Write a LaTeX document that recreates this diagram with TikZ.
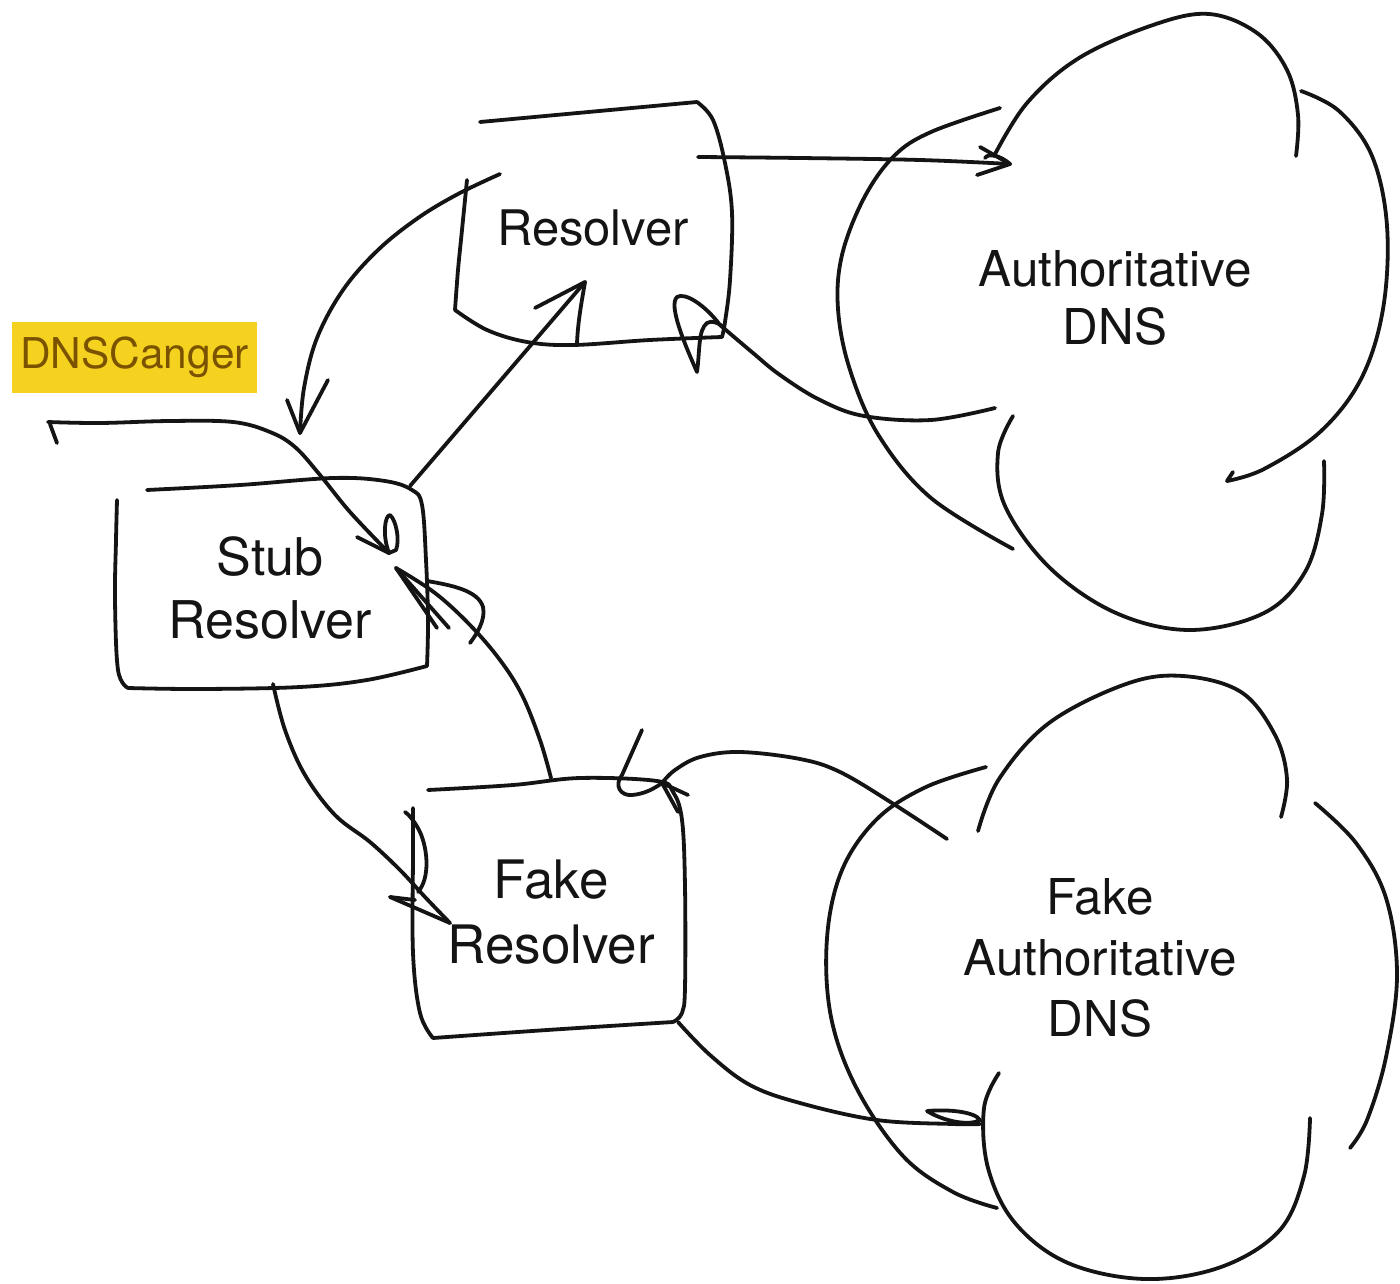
\documentclass[tikz,border=0pt]{standalone}
\usepackage{fontspec}
\setmainfont{TeX Gyre Heros}
\definecolor{inkc}{HTML}{141414}
\definecolor{hlyellow}{HTML}{F5D21F}
\definecolor{hltext}{HTML}{7A5200}
\begin{document}
\begin{tikzpicture}[x=0.5pt,y=-0.5pt,
  ink/.style={line width=1.9pt, draw=inkc, line cap=round, line join=round},
  lbl/.style={align=center, inner sep=0pt, text=inkc},
]
% canvas
\fill[white] (0,0) rectangle (1400,1283);
\useasboundingbox (0,0) rectangle (1400,1283);

% ---------- labels ----------
\node[lbl, font=\fontsize{24.5}{29}\selectfont] (res) at (593,228) {Resolver};
\node[lbl, font=\fontsize{26}{31.5}\selectfont] (stub) at (270,588) {Stub\\Resolver};
\node[lbl, font=\fontsize{26.5}{32.5}\selectfont] (fake) at (551,912) {Fake\\Resolver};
\node[lbl, font=\fontsize{24.7}{29}\selectfont] (auth) at (1115,298) {Authoritative\\DNS};
\node[lbl, font=\fontsize{24.7}{30.5}\selectfont] (fauth) at (1100,958) {Fake\\Authoritative\\DNS};
\node[fill=hlyellow, text=hltext, inner sep=0pt, minimum width=122.5pt, minimum height=35.5pt,
      font=\fontsize{21.2}{25}\selectfont] (dnsc) at (134.5,357.5) {DNSCanger};

% ---------- hand-drawn boxes ----------
% Resolver
\draw[ink] (480,122) -- (697,102);
\draw[ink] plot[smooth,tension=0.6] coordinates {(697,102) (713,120) (725,163) (732,213) (730,280) (725,322) (722,337)};
\draw[ink] plot[smooth,tension=0.6] coordinates {(722,337) (650,340) (573,345) (527,342) (487,330) (455,310)};
\draw[ink] plot[smooth,tension=0.6] coordinates {(455,310) (458,270) (462,230) (467,180)};
% Stub Resolver
\draw[ink] plot[smooth,tension=0.6] coordinates {(147,490) (240,485) (333,478) (385,481) (412,490) (422,505) (426,560) (428,620) (427,666)};
\draw[ink] plot[smooth,tension=0.6] coordinates {(427,666) (367,680) (300,687) (200,689) (128,688)};
\draw[ink] plot[smooth,tension=0.6] coordinates {(128,688) (118,670) (115,600) (116,540) (117,500)};
% Fake Resolver
\draw[ink] plot[smooth,tension=0.6] coordinates {(428,790) (513,785) (580,778) (657,781) (673,792) (682,820) (685,887) (685,987) (682,1013) (673,1022)};
\draw[ink] plot[smooth,tension=0.6] coordinates {(673,1022) (547,1030) (433,1038)};
\draw[ink] plot[smooth,tension=0.6] coordinates {(433,1038) (420,1013) (413,953) (413,853) (413,808)};

% ---------- clouds ----------
% Authoritative DNS
\draw[ink] plot[smooth,tension=0.6] coordinates {(1000,108) (931,132) (894,156) (864,198) (842,255) (838,309) (850,370) (879,436) (931,498) (1013,549)};
\draw[ink] plot[smooth,tension=0.6] coordinates {(994,156) (1027,103) (1079,58) (1153,25) (1209,14) (1257,33) (1287,70) (1298,115) (1296,156)};
\draw[ink] plot[smooth,tension=0.6] coordinates {(1301,91) (1339,111) (1372,156) (1387,226) (1383,309) (1361,379) (1320,432) (1264,469) (1227,481)};
\draw[ink] (1227,481) -- (1233,472);
\draw[ink] plot[smooth,tension=0.6] coordinates {(1324,461) (1322,514) (1305,572) (1264,613) (1190,630) (1116,613) (1050,568) (1005,506) (998,453) (1013,416)};
% Fake Authoritative DNS
\draw[ink] plot[smooth,tension=0.6] coordinates {(986,767) (926,787) (877,819) (842,870) (827,938) (831,1017) (857,1089) (903,1156) (953,1192) (997,1208)};
\draw[ink] plot[smooth,tension=0.6] coordinates {(978,831) (999,779) (1049,723) (1126,684) (1183,676) (1241,692) (1275,735) (1287,779) (1281,817)};
\draw[ink] plot[smooth,tension=0.6] coordinates {(1315,803) (1356,843) (1386,898) (1397,975) (1386,1057) (1367,1120) (1350,1148)};
\draw[ink] plot[smooth,tension=0.6] coordinates {(999,1073) (984,1108) (988,1168) (1015,1223) (1068,1263) (1145,1279) (1221,1267) (1279,1231) (1304,1176) (1310,1118)};

% ---------- connector end points ----------
\coordinate (r1) at (698,157);   \coordinate (a1) at (1010,164);
\coordinate (r2) at (500,174);   \coordinate (s2) at (300,433);
\coordinate (d3) at (48,422);    \coordinate (s3) at (389,553);
\coordinate (s4) at (410,486);   \coordinate (r4) at (585,282);
\coordinate (a5) at (995,408);   \coordinate (r5) at (720,325);
\coordinate (f6) at (551,778);   \coordinate (s6) at (396,568);
\coordinate (s7) at (273,684);   \coordinate (f7) at (450,923);
\coordinate (fa8) at (947,839);  \coordinate (f8) at (662,783);
\coordinate (f9) at (678,1022);  \coordinate (fa9) at (980,1124);

% ---------- connectors ----------
% Resolver -> Authoritative DNS
\draw[ink] plot[smooth,tension=0.6] coordinates {(r1) (800,158) (920,160) (a1)};
\draw[ink] (980,147) -- (a1) -- (977,175);
\draw[ink] (a1) .. controls (1000,155) and (988,153) .. (985,158);

% Resolver -> Stub Resolver
\draw[ink] plot[smooth,tension=0.6] coordinates {(r2) (458,194) (418,218) (378,250) (343,290) (317,338) (304,388) (s2)};
\draw[ink] (287,400) -- (s2) -- (328,380);

% DNSCanger -> Stub Resolver
\draw[ink] plot[smooth,tension=0.6] coordinates {(d3) (100,423) (170,421) (233,422) (270,432) (295,447) (320,475) (350,512) (s3)};
\draw[ink] (50,424) -- (57,443);
\draw[ink] (357,537) -- (s3);
\draw[ink] (s3) .. controls (382,535) and (385,515) .. (390,515) .. controls (396,520) and (400,540) .. (396,550) -- cycle;

% Stub Resolver -> Resolver
\draw[ink] (s4) -- (r4);
\draw[ink] (535,308) -- (r4) .. controls (582,300) and (578,320) .. (577,343);

% Authoritative DNS -> Resolver
\draw[ink] plot[smooth,tension=0.6] coordinates {(a5) (931,420) (864,416) (820,400) (780,375) (753,353) (r5)};
\draw[ink] (r5) .. controls (705,305) and (685,292) .. (677,297) .. controls (668,305) and (685,345) .. (697,372) .. controls (700,350) and (698,330) .. (707,323) .. controls (712,320) and (718,323) .. (722,326);

% Fake Resolver -> Stub Resolver
\draw[ink] plot[smooth,tension=0.6] coordinates {(f6) (540,740) (522,695) (500,660) (470,625) (435,593) (s6)};
\draw[ink] (s6) -- (449,628);
\draw[ink] (s6) -- (437,628);
\draw[ink] (427,581) .. controls (450,585) and (478,590) .. (483,607) .. controls (486,620) and (476,635) .. (470,643);

% Stub Resolver -> Fake Resolver
\draw[ink] plot[smooth,tension=0.6] coordinates {(s7) (285,730) (305,775) (335,815) (370,842) (400,870) (425,897) (f7)};
\draw[ink] (390,897) -- (f7);
\draw[ink] (390,897) -- (415,900);
\draw[ink] (418,892) .. controls (430,878) and (428,850) .. (420,832) .. controls (414,820) and (408,814) .. (405,812);

% Fake Authoritative DNS -> Fake Resolver
\draw[ink] plot[smooth,tension=0.6] coordinates {(fa8) (892,803) (840,772) (800,759) (740,752) (700,757) (675,770) (f8)};
\draw[ink] (642,730) -- (622,775) .. controls (614,785) and (620,796) .. (632,795) .. controls (645,794) and (655,788) .. (f8);
\draw[ink] (f8) -- (688,795);
\draw[ink] (f8) -- (678,812);

% Fake Resolver -> Fake Authoritative DNS
\draw[ink] plot[smooth,tension=0.6] coordinates {(f9) (710,1055) (750,1085) (800,1103) (877,1120) (953,1124) (fa9)};
\draw[ink] (927,1111) .. controls (950,1109) and (975,1112) .. (980,1120) .. controls (970,1126) and (945,1122) .. (927,1111);
\end{tikzpicture}
\end{document}
